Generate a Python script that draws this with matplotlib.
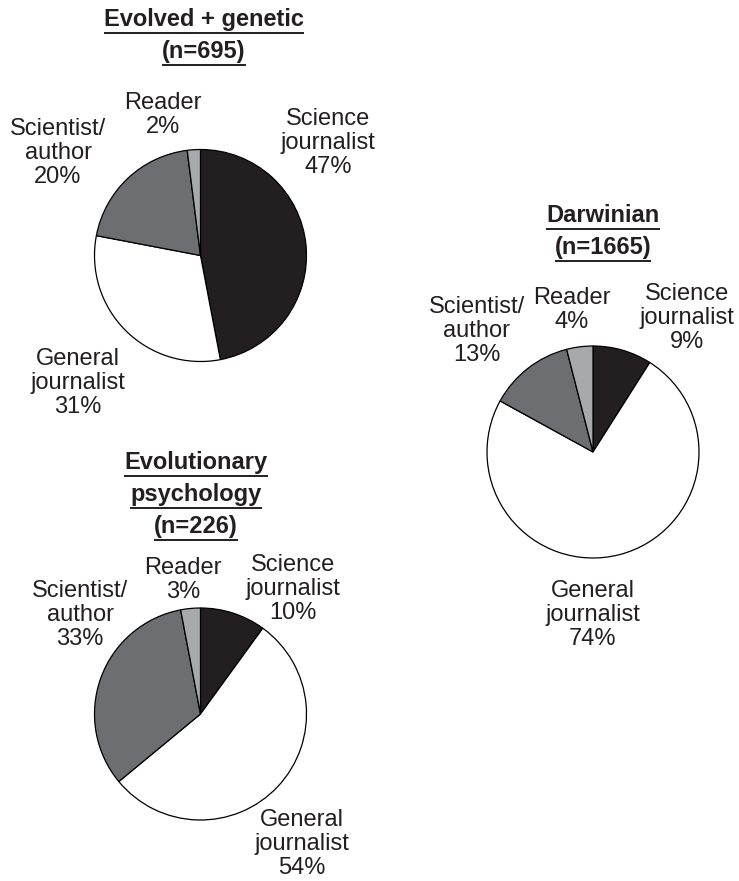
import matplotlib
matplotlib.use("Agg")
import matplotlib.pyplot as plt

# data: share of authors, clockwise from 12 o'clock
categories = ["Science\njournalist", "General\njournalist", "Scientist/\nauthor", "Reader"]
evolved_genetic = [47, 31, 20, 2]
darwinian = [9, 74, 13, 4]
evo_psych = [10, 54, 33, 3]
titles = [["Evolved + genetic", "(n=695)"],
          ["Darwinian", "(n=1665)"],
          ["Evolutionary", "psychology", "(n=226)"]]

colors = ["#231f20", "#ffffff", "#6d6e71", "#a7a9ac"]

W, H = 739, 881
plt.rcParams["font.family"] = ["Liberation Sans", "DejaVu Sans"]

fig = plt.figure(figsize=(W / 100, H / 100), dpi=100)
ax = fig.add_axes([0, 0, 1, 1])

def Y(py):
    return H - py

# layout (pixel coords, y from top)
centers = [(200.5, 255.5), (593, 452), (200.5, 714)]
radius = 106
title_pos = [(204, 26), (603, 222), (196, 469)]
label_pos = [
    [(328, 143), (78, 383), (58, 153), (163, 115)],
    [(687, 318), (593, 615), (477, 331), (572, 310)],
    [(293, 589), (302, 844), (80, 615), (183, 580)],
]
all_vals = [evolved_genetic, darwinian, evo_psych]

fs = 17

for vals, (cx, cy) in zip(all_vals, centers):
    ax.pie(vals, colors=colors, startangle=90, counterclock=False,
           center=(cx, Y(cy)), radius=radius,
           wedgeprops=dict(edgecolor="black", linewidth=0.9))

# pie() resets the limits, so fix them afterwards
ax.set_xlim(0, W)
ax.set_ylim(0, H)
ax.set_aspect("equal")
ax.axis("off")

renderer = fig.canvas.get_renderer()
inv = ax.transData.inverted()

for vals, ttl, (tx, ty), lpos in zip(all_vals, titles, title_pos, label_pos):
    for name, v, (lx, ly) in zip(categories, vals, lpos):
        ax.text(lx, Y(ly), "%s\n%d%%" % (name, v), ha="center", va="center",
                fontsize=fs, linespacing=1.1, color="#231f20")
    # underlined title lines
    for i, line in enumerate(ttl):
        by = ty + 32 * i
        t = ax.text(tx, Y(by), line, ha="center", va="baseline",
                    fontsize=fs, fontweight="bold", color="#231f20")
        bb = t.get_window_extent(renderer=renderer)
        x0 = inv.transform((bb.x0, 0))[0]
        x1 = inv.transform((bb.x1, 0))[0]
        ax.plot([x0, x1], [Y(by + 6.5)] * 2, color="#231f20", lw=1.4,
                solid_capstyle="butt")

fig.savefig("out.png", dpi=100)
